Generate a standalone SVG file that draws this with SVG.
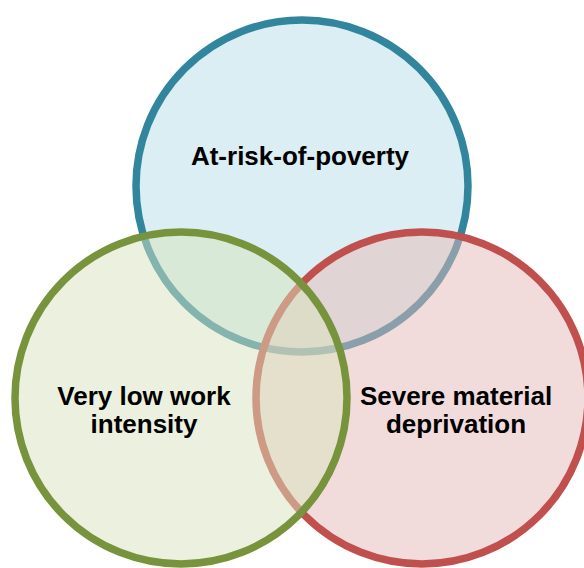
<svg xmlns="http://www.w3.org/2000/svg" width="584" height="568" viewBox="0 0 584 568">
<style>
.c{stroke-width:7.5}
.lbl{font-family:"Liberation Sans",Arial,sans-serif;font-weight:bold;font-size:26px;fill:#000;text-anchor:middle}
</style>
<rect width="584" height="568" fill="#fff"/>
<g id="node-poverty">
<circle class="c" cx="302" cy="186" r="166" fill="#DAEEF3" stroke="#31859C"/>
</g>
<g id="node-deprivation">
<circle class="c" cx="422" cy="398" r="166" fill="#E5B9B7" fill-opacity="0.5" stroke="#C0504D"/>
</g>
<g id="node-work">
<circle class="c" cx="181" cy="398" r="166" fill="#D7E3BD" fill-opacity="0.5" stroke="#77933C"/>
</g>
<g id="labels">
<text class="lbl" x="300" y="165">At-risk-of-poverty</text>
<text class="lbl" x="144" y="405">Very low work</text>
<text class="lbl" x="144" y="433">intensity</text>
<text class="lbl" x="456" y="405">Severe material</text>
<text class="lbl" x="456" y="433">deprivation</text>
</g>
<g id="connectors"/>
</svg>
